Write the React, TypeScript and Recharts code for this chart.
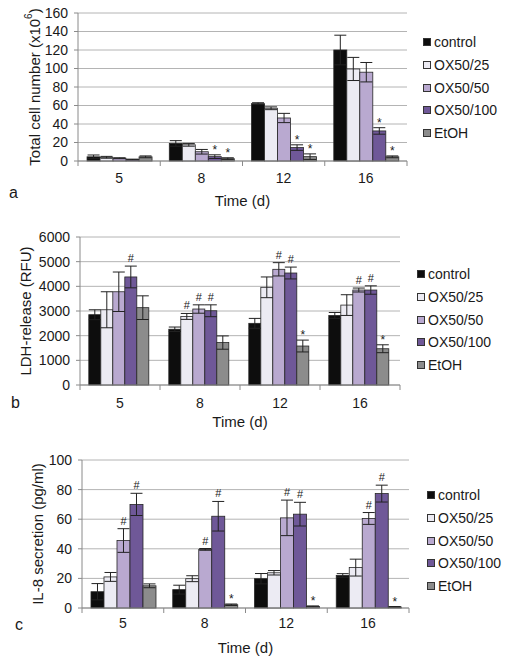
import React from "react";
import { BarChart, Bar, XAxis, YAxis, CartesianGrid, ErrorBar } from "recharts";

const days = ["5", "8", "12", "16"];
const seriesNames = ["control", "OX50/25", "OX50/50", "OX50/100", "EtOH"];
const seriesColors = ["#0d0d0d", "#ecebf3", "#b9a9d0", "#6f5898", "#8c8c8c"];

// a: total cell number (x10^6) -- one row per series, one column per day
const cellMean = [
  [4.5, 19, 62, 120],
  [4, 17.5, 57, 99.5],
  [3, 10, 46.5, 96],
  [1.5, 4.7, 14.5, 32.5],
  [4.5, 2.5, 4.7, 4.5],
];
const cellErr = [
  [2, 3, 1, 16],
  [1, 1.5, 1.5, 12.5],
  [0.5, 2.5, 5, 10.5],
  [0.5, 2, 3, 3.5],
  [1, 1, 3, 1],
];
const cellSig = [
  ["", "", "", ""],
  ["", "", "", ""],
  ["", "", "", ""],
  ["", "*", "*", "*"],
  ["", "*", "*", "*"],
];
const cellTicks = [0, 20, 40, 60, 80, 100, 120, 140, 160];

// b: LDH-release (RFU)
const ldhMean = [
  [2850, 2260, 2500, 2820],
  [3050, 2780, 3960, 3240],
  [3780, 3080, 4690, 3850],
  [4380, 3010, 4540, 3850],
  [3135, 1720, 1580, 1470],
];
const ldhErr = [
  [200, 90, 200, 120],
  [730, 120, 420, 420],
  [800, 170, 270, 80],
  [440, 240, 240, 170],
  [480, 270, 240, 160],
];
const ldhSig = [
  ["", "", "", ""],
  ["", "#", "", ""],
  ["", "#", "#", "#"],
  ["#", "#", "#", "#"],
  ["", "", "*", "*"],
];
const ldhTicks = [0, 1000, 2000, 3000, 4000, 5000, 6000];

// c: IL-8 secretion (pg/ml)
const il8Mean = [
  [11, 12.4, 19.8, 22],
  [21, 19.8, 23.8, 27.3],
  [45.6, 39.6, 60.9, 60.5],
  [70, 62, 63.4, 77.3],
  [15, 2.2, 1.1, 0.7],
];
const il8Err = [
  [5.5, 3, 3.5, 1.2],
  [3, 2, 1.5, 5.7],
  [8, 0.6, 12, 4],
  [7.5, 10, 8, 5.7],
  [1.3, 0.5, 0.3, 0.3],
];
const il8Sig = [
  ["", "", "", ""],
  ["", "", "", ""],
  ["#", "#", "#", "#"],
  ["#", "#", "#", "#"],
  ["", "*", "*", "*"],
];
const il8Ticks = [0, 20, 40, 60, 80, 100];

const FONT = '"Liberation Sans", Arial, Helvetica, sans-serif';
const AXIS = "#8a8a8a";
const INK = "#1a1a1a";

function buildRows(mean: number[][], err: number[][], sig: string[][]) {
  return days.map((day, j) => {
    const row: Record<string, any> = { day };
    seriesNames.forEach((_, i) => {
      row[`v${i}`] = mean[i][j];
      row[`e${i}`] = err[i][j];
      row[`s${i}`] = sig[i][j];
    });
    return row;
  });
}

// bar with the significance mark sitting above its error bar
function makeShape(i: number) {
  return (props: any) => {
    const { x, y, width, height, payload } = props;
    const v = payload[`v${i}`];
    const e = payload[`e${i}`];
    const s = payload[`s${i}`];
    const errPx = v > 0 ? (e * height) / v : 0;
    const top = y - errPx;
    return (
      <g>
        <rect x={x} y={y} width={width} height={height} fill={seriesColors[i]} stroke="#262626" strokeWidth={0.8} />
        {s ? (
          <text
            x={x + width / 2}
            y={s === "*" ? top - 1 : top - 4}
            textAnchor="middle"
            fontSize={s === "*" ? 12 : 11}
            fontFamily={FONT}
            fill={INK}
          >
            {s}
          </text>
        ) : null}
      </g>
    );
  };
}

type PanelProps = {
  rows: any[];
  top: number;
  height: number;
  marginTop: number;
  marginRight: number;
  yWidth: number;
  xHeight: number;
  tickMargin: number;
  yMax: number;
  yTicks: number[];
  yTitle: React.ReactNode;
  yTitleX: number;
  titleDy: number;
  letter: string;
  letterX: number;
  letterY: number;
  legendX: number;
  legendY: number;
};

const Legend = ({ left, top }: { left: number; top: number }) => (
  <div style={{ position: "absolute", left, top: top - 11, fontFamily: FONT, fontSize: 14, color: INK }}>
    {seriesNames.map((name, i) => (
      <div key={name} style={{ height: 22.7, display: "flex", alignItems: "center" }}>
        <span
          style={{
            display: "inline-block",
            width: 6,
            height: 6,
            background: seriesColors[i],
            border: "1px solid #333",
            marginRight: 3,
          }}
        />
        <span>{name}</span>
      </div>
    ))}
  </div>
);

const Panel = (p: PanelProps) => {
  const plotH = p.height - p.marginTop - p.xHeight;
  const band = (510 - p.yWidth - p.marginRight) / days.length;

  // category label plus the Excel-style tick marks between the groups
  const CatTick = (tp: any) => {
    const { x, y, payload, index } = tp;
    const axisY = y - p.tickMargin;
    const half = band / 2;
    return (
      <g>
        <line x1={x - half} x2={x - half} y1={axisY} y2={axisY + 5} stroke={AXIS} />
        {index === days.length - 1 ? (
          <line x1={x + half} x2={x + half} y1={axisY} y2={axisY + 5} stroke={AXIS} />
        ) : null}
        <text x={x} y={y} dy="0.71em" textAnchor="middle" fontSize={14} fontFamily={FONT} fill={INK}>
          {payload.value}
        </text>
      </g>
    );
  };

  return (
    <div style={{ position: "absolute", left: 0, top: p.top, width: 510, height: p.height }}>
      <BarChart
        width={510}
        height={p.height}
        data={p.rows}
        margin={{ top: p.marginTop, right: p.marginRight, left: 0, bottom: 0 }}
        barCategoryGap="11%"
        barGap={0}
      >
        <CartesianGrid vertical={false} stroke="#b4b4b4" strokeWidth={1} />
        <XAxis
          dataKey="day"
          height={p.xHeight}
          tickLine={false}
          tickSize={0}
          tickMargin={p.tickMargin}
          axisLine={{ stroke: AXIS }}
          tick={CatTick}
          interval={0}
          label={(lp: any) => {
            const vb = lp.viewBox || {};
            const cx = (vb.x ?? p.yWidth) + (vb.width ?? 0) / 2;
            const cy = (vb.y ?? p.marginTop + plotH) + p.titleDy;
            return (
              <text x={cx} y={cy} textAnchor="middle" dominantBaseline="central" fontSize={15} fontFamily={FONT} fill={INK}>
                Time (d)
              </text>
            );
          }}
        />
        <YAxis
          type="number"
          domain={[0, p.yMax]}
          ticks={p.yTicks}
          interval={0}
          width={p.yWidth}
          tickSize={4}
          tickMargin={6}
          axisLine={{ stroke: AXIS }}
          tickLine={{ stroke: AXIS }}
          tick={{ fontSize: 14, fill: INK, fontFamily: FONT }}
          label={(lp: any) => {
            const vb = lp.viewBox || {};
            const cx = p.yTitleX;
            const cy = (vb.y ?? p.marginTop) + (vb.height ?? plotH) / 2;
            return (
              <text
                x={cx}
                y={cy}
                transform={`rotate(-90 ${cx} ${cy})`}
                textAnchor="middle"
                dominantBaseline="central"
                fontSize={15}
                fontFamily={FONT}
                fill={INK}
              >
                {p.yTitle}
              </text>
            );
          }}
        />
        {seriesNames.map((name, i) => (
          <Bar
            key={name}
            dataKey={`v${i}`}
            name={name}
            fill={seriesColors[i]}
            shape={makeShape(i)}
            isAnimationActive={false}
          >
            <ErrorBar dataKey={`e${i}`} width={6} stroke="#222" strokeWidth={1} direction="y" />
          </Bar>
        ))}
      </BarChart>
      <div
        style={{
          position: "absolute",
          left: p.letterX,
          top: p.letterY - p.top - 10,
          fontFamily: FONT,
          fontSize: 16,
          color: INK,
          lineHeight: "20px",
        }}
      >
        {p.letter}
      </div>
      <Legend left={p.legendX} top={p.legendY - p.top} />
    </div>
  );
};

export default function App() {
  const cellRows = buildRows(cellMean, cellErr, cellSig);
  const ldhRows = buildRows(ldhMean, ldhErr, ldhSig);
  const il8Rows = buildRows(il8Mean, il8Err, il8Sig);
  return (
    <div style={{ position: "absolute", left: 0, top: 0, width: 510, height: 662, background: "#fff" }}>
      <Panel
        rows={cellRows}
        top={0}
        height={215}
        marginTop={13}
        marginRight={103}
        yWidth={78}
        xHeight={54}
        tickMargin={12}
        yMax={160}
        yTicks={cellTicks}
        yTitle={
          <>
            <tspan>Total cell number (x10</tspan>
            <tspan dy={-6} fontSize={10}>6</tspan>
            <tspan dy={6}>)</tspan>
          </>
        }
        yTitleX={34}
        titleDy={39}
        letter="a"
        letterX={9}
        letterY={193}
        legendX={423}
        legendY={42}
      />
      <Panel
        rows={ldhRows}
        top={215}
        height={215}
        marginTop={22}
        marginRight={110}
        yWidth={80}
        xHeight={45}
        tickMargin={13}
        yMax={6000}
        yTicks={ldhTicks}
        yTitle="LDH-release (RFU)"
        yTitleX={25}
        titleDy={36}
        letter="b"
        letterX={11}
        letterY={403}
        legendX={417}
        legendY={274}
      />
      <Panel
        rows={il8Rows}
        top={430}
        height={232}
        marginTop={30}
        marginRight={101}
        yWidth={82}
        xHeight={54}
        tickMargin={10}
        yMax={100}
        yTicks={il8Ticks}
        yTitle="IL-8 secretion (pg/ml)"
        yTitleX={37}
        titleDy={39}
        letter="c"
        letterX={15}
        letterY={625}
        legendX={427}
        legendY={495}
      />
    </div>
  );
}
